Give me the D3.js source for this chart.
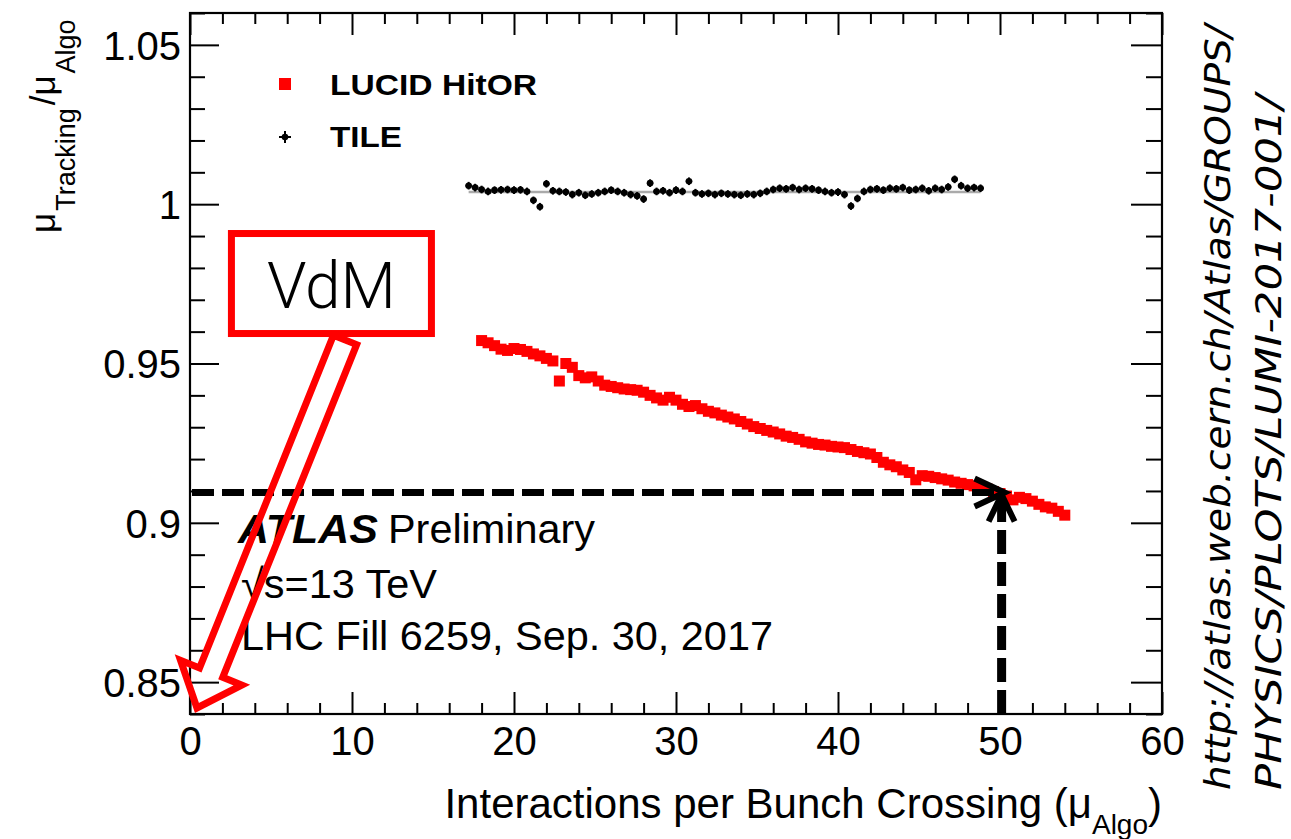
<!DOCTYPE html>
<html><head><meta charset="utf-8">
<script src="https://cdn.jsdelivr.net/npm/d3@7"></script>
<style>body{margin:0;background:#fff;} svg{display:block;background:#fff}</style>
</head><body>
<svg id="chart" width="1291" height="839"></svg>
<script>
// ---------- data ----------
const lucidMu = [18.0,18.4,18.8,19.2,19.6,20.0,20.4,20.8,21.2,21.6,22.0,22.4,22.8,23.2,23.6,24.0,24.4,24.8,25.2,25.6,26.0,26.4,26.8,27.2,27.6,28.0,28.4,28.8,29.2,29.6,30.0,30.4,30.8,31.2,31.6,32.0,32.4,32.8,33.2,33.6,34.0,34.4,34.8,35.2,35.6,36.0,36.4,36.8,37.2,37.6,38.0,38.4,38.8,39.2,39.6,40.0,40.4,40.8,41.2,41.6,42.0,42.4,42.8,43.2,43.6,44.0,44.4,44.8,45.2,45.6,46.0,46.4,46.8,47.2,47.6,48.0,48.4,48.8,49.2,49.6,50.0,50.4,50.8,51.2,51.6,52.0,52.4,52.8,53.2,53.6,54.0];
const lucidRatio = [0.9572,0.9565,0.9556,0.9545,0.9541,0.9547,0.9544,0.9538,0.9530,0.9524,
  0.9516,0.9508,0.9445,0.9500,0.9488,0.9462,0.9455,0.9458,0.9445,0.9432,
  0.9428,0.9424,0.9420,0.9418,0.9416,0.9410,0.9400,0.9392,0.9385,0.9394,
  0.9385,0.9372,0.9365,0.9368,0.9358,0.9350,0.9345,0.9338,0.9332,0.9326,
  0.9318,0.9310,0.9302,0.9296,0.9290,0.9285,0.9279,0.9272,0.9268,0.9262,
  0.9254,0.9250,0.9246,0.9244,0.9240,0.9238,0.9236,0.9230,0.9224,0.9220,
  0.9216,0.9205,0.9190,0.9182,0.9176,0.9166,0.9158,0.9135,0.9148,0.9146,
  0.9142,0.9138,0.9134,0.9128,0.9124,0.9120,0.9116,0.9112,0.9106,0.9098,
  0.9092,0.9084,0.9072,0.9080,0.9076,0.9068,0.9058,0.9050,0.9046,0.9036,0.9024];
const tileMu = [17.2,17.6,18.0,18.4,18.8,19.2,19.6,20.0,20.4,20.8,21.2,21.6,22.0,22.4,22.8,23.2,23.6,24.0,24.4,24.8,25.2,25.6,26.0,26.4,26.8,27.2,27.6,28.0,28.4,28.8,29.2,29.6,30.0,30.4,30.8,31.2,31.6,32.0,32.4,32.8,33.2,33.6,34.0,34.4,34.8,35.2,35.6,36.0,36.4,36.8,37.2,37.6,38.0,38.4,38.8,39.2,39.6,40.0,40.4,40.8,41.2,41.6,42.0,42.4,42.8,43.2,43.6,44.0,44.4,44.8,45.2,45.6,46.0,46.4,46.8,47.2,47.6,48.0,48.4,48.8];
const tileRatio = [1.0058,1.0052,1.0046,1.0040,1.0044,1.0045,1.0046,1.0044,1.0045,1.0040,
  1.0012,0.9992,1.0064,1.0042,1.0040,1.0038,1.0030,1.0036,1.0028,1.0032,
  1.0036,1.0040,1.0044,1.0040,1.0036,1.0030,1.0026,1.0016,1.0066,1.0040,
  1.0042,1.0036,1.0044,1.0040,1.0072,1.0036,1.0032,1.0034,1.0030,1.0034,
  1.0032,1.0030,1.0028,1.0032,1.0030,1.0034,1.0040,1.0046,1.0050,1.0048,
  1.0052,1.0046,1.0050,1.0048,1.0044,1.0040,1.0036,1.0038,1.0030,0.9994,
  1.0018,1.0040,1.0046,1.0048,1.0044,1.0050,1.0048,1.0052,1.0044,1.0046,
  1.0050,1.0042,1.0050,1.0046,1.0054,1.0078,1.0058,1.0050,1.0052,1.0050];
const tileErrMu = 0.2;
const tileErrRatio = 0.0012;
const lucidErrRatio = 0.0006;
const tileFitRatio = 1.0038;
const seriesNames = ["LUCID HitOR", "TILE"];
const xTicks = [0,10,20,30,40,50,60];
const xTickLabels = ["0","10","20","30","40","50","60"];
const xMinorTicks = [2,4,6,8,12,14,16,18,22,24,26,28,32,34,36,38,42,44,46,48,52,54,56,58];
const yTicks = [0.85,0.9,0.95,1,1.05];
const yTickLabels = ["0.85","0.9","0.95","1","1.05"];
const yMinorTicks = [0.84,0.86,0.87,0.88,0.89,0.91,0.92,0.93,0.94,0.96,0.97,0.98,0.99,1.01,1.02,1.03,1.04,1.06];
// annotation anchors (data units)
const targetMu = 50.1, targetRatio = 0.9095;
const vdmBox = {mu: 8.73, ratio: 0.9751};
const vdmArrowTail = {mu: 9.57, ratio: 0.9574};
const vdmArrowTip = {mu: 0.43, ratio: 0.8419};

// ---------- setup ----------
const svg = d3.select("#chart");
const FONT = "'Liberation Sans', Arial, Helvetica, sans-serif";
const L = 190, R = 1162, T = 13, B = 714;
const x = d3.scaleLinear().domain([0,60]).range([L,R]);
const y = d3.scaleLinear().domain([0.84,1.06]).range([B,T]);

svg.append("rect").attr("width",1291).attr("height",839).attr("fill","#fff");

function styleAxis(g){
  g.select(".domain").remove();
  g.selectAll(".tick line").attr("stroke","#000").attr("stroke-width",2);
  g.attr("font-family",FONT);
}
// bottom
svg.append("g").attr("transform",`translate(0,${B})`)
  .call(d3.axisBottom(x).tickValues(xTicks).tickFormat((d,i)=>xTickLabels[i]).tickSize(-22).tickSizeOuter(0).tickPadding(12))
  .call(styleAxis)
  .call(g=>g.selectAll("text").attr("font-size",40).attr("fill","#000").attr("dy","0.72em"));
svg.append("g").attr("transform",`translate(0,${B})`)
  .call(d3.axisBottom(x).tickValues(xMinorTicks).tickFormat("").tickSize(-11).tickSizeOuter(0)).call(styleAxis);
// top
svg.append("g").attr("transform",`translate(0,${T})`)
  .call(d3.axisTop(x).tickValues(xTicks).tickFormat("").tickSize(-22).tickSizeOuter(0)).call(styleAxis);
svg.append("g").attr("transform",`translate(0,${T})`)
  .call(d3.axisTop(x).tickValues(xMinorTicks).tickFormat("").tickSize(-11).tickSizeOuter(0)).call(styleAxis);
// left
svg.append("g").attr("transform",`translate(${L},0)`)
  .call(d3.axisLeft(y).tickValues(yTicks).tickFormat((d,i)=>yTickLabels[i]).tickSize(-29).tickSizeOuter(0).tickPadding(9))
  .call(styleAxis)
  .call(g=>g.selectAll("text").attr("font-size",40).attr("fill","#000").attr("dy","0.36em"));
svg.append("g").attr("transform",`translate(${L},0)`)
  .call(d3.axisLeft(y).tickValues(yMinorTicks).tickFormat("").tickSize(-15).tickSizeOuter(0)).call(styleAxis);
// right
svg.append("g").attr("transform",`translate(${R},0)`)
  .call(d3.axisRight(y).tickValues(yTicks).tickFormat("").tickSize(-31).tickSizeOuter(0)).call(styleAxis);
svg.append("g").attr("transform",`translate(${R},0)`)
  .call(d3.axisRight(y).tickValues(yMinorTicks).tickFormat("").tickSize(-16).tickSizeOuter(0)).call(styleAxis);
// frame
svg.append("rect").attr("x",L).attr("y",T).attr("width",R-L).attr("height",B-T)
  .attr("fill","none").attr("stroke","#000").attr("stroke-width",2.2);

// ---------- data marks ----------
const tile = tileMu.map((m,i)=>({m, r: tileRatio[i]}));
const lucid = lucidMu.map((m,i)=>({m, r: lucidRatio[i]}));

svg.append("line")
  .attr("x1",x(d3.min(tileMu))).attr("x2",x(d3.max(tileMu)))
  .attr("y1",y(tileFitRatio)).attr("y2",y(tileFitRatio))
  .attr("stroke","#aaa").attr("stroke-width",2.5);

const tg = svg.append("g");
tg.selectAll("line.ex").data(tile).join("line").attr("class","ex")
  .attr("x1",d=>x(d.m-tileErrMu)).attr("x2",d=>x(d.m+tileErrMu))
  .attr("y1",d=>y(d.r)).attr("y2",d=>y(d.r)).attr("stroke","#000").attr("stroke-width",2);
tg.selectAll("line.ey").data(tile).join("line").attr("class","ey")
  .attr("x1",d=>x(d.m)).attr("x2",d=>x(d.m))
  .attr("y1",d=>y(d.r-tileErrRatio)).attr("y2",d=>y(d.r+tileErrRatio)).attr("stroke","#000").attr("stroke-width",2);
tg.selectAll("circle").data(tile).join("circle")
  .attr("cx",d=>x(d.m)).attr("cy",d=>y(d.r)).attr("r",3.3).attr("fill","#000");

const S = 11;
const lg = svg.append("g");
lg.selectAll("line").data(lucid).join("line")
  .attr("x1",d=>x(d.m)).attr("x2",d=>x(d.m))
  .attr("y1",d=>y(d.r-lucidErrRatio)-S/2).attr("y2",d=>y(d.r+lucidErrRatio)+S/2)
  .attr("stroke","#ff0000").attr("stroke-width",3);
lg.selectAll("rect").data(lucid).join("rect")
  .attr("x",d=>x(d.m)-S/2).attr("y",d=>y(d.r)-S/2).attr("width",S).attr("height",S)
  .attr("fill","#ff0000");

// ---------- legend ----------
svg.append("rect").attr("x",279).attr("y",78).attr("width",12).attr("height",12).attr("fill","#ff0000");
svg.append("circle").attr("cx",285).attr("cy",137).attr("r",3.3).attr("fill","#000");
svg.append("line").attr("x1",279).attr("x2",291).attr("y1",137).attr("y2",137).attr("stroke","#000").attr("stroke-width",2);
svg.append("line").attr("x1",285).attr("x2",285).attr("y1",131).attr("y2",143).attr("stroke","#000").attr("stroke-width",2);
svg.append("text").attr("x",330).attr("y",95).attr("font-family",FONT).attr("font-weight","bold")
  .attr("font-size",30).attr("textLength",207).attr("lengthAdjust","spacingAndGlyphs").text(seriesNames[0]);
svg.append("text").attr("x",330).attr("y",147).attr("font-family",FONT).attr("font-weight","bold")
  .attr("font-size",30).attr("textLength",72).attr("lengthAdjust","spacingAndGlyphs").text(seriesNames[1]);

// ---------- ATLAS text ----------
const at = svg.append("text").attr("x",238).attr("y",543).attr("font-family",FONT).attr("font-size",41).attr("fill","#000");
at.append("tspan").attr("font-weight","bold").attr("font-style","italic").attr("textLength",140).attr("lengthAdjust","spacingAndGlyphs").text("ATLAS");
at.append("tspan").attr("dx",10).attr("textLength",207).attr("lengthAdjust","spacingAndGlyphs").text("Preliminary");
svg.append("text").attr("x",241).attr("y",598).attr("font-family",FONT).attr("font-size",41)
  .attr("textLength",196).attr("lengthAdjust","spacingAndGlyphs").text("\u221As=13 TeV");
svg.append("text").attr("x",241).attr("y",650).attr("font-family",FONT).attr("font-size",41)
  .attr("textLength",532).attr("lengthAdjust","spacingAndGlyphs").text("LHC Fill 6259, Sep. 30, 2017");

// ---------- axis titles ----------
const xt = svg.append("text").attr("x",R).attr("y",818).attr("text-anchor","end").attr("font-family",FONT).attr("font-size",42);
xt.append("tspan").text("Interactions per Bunch Crossing (\u03BC");
xt.append("tspan").attr("font-size",28).attr("dy",16).text("Algo");
xt.append("tspan").attr("dy",-16).text(")");

const yt = svg.append("text").attr("transform","translate(55,233) rotate(-90)").attr("font-family",FONT).attr("font-size",35);
yt.append("tspan").text("\u03BC");
yt.append("tspan").attr("font-size",27).attr("dy",20).attr("dx",2).text("Tracking");
yt.append("tspan").attr("dy",-20).attr("dx",3).text("/\u03BC");
yt.append("tspan").attr("font-size",27).attr("dy",20).attr("dx",2).text("Algo");

// ---------- URL ----------
svg.append("text").attr("transform","translate(1230,790) rotate(-90)").attr("font-family","'DejaVu Sans', sans-serif")
  .attr("font-style","italic").attr("font-size",36).attr("textLength",765).attr("lengthAdjust","spacingAndGlyphs")
  .text("http://atlas.web.cern.ch/Atlas/GROUPS/");
svg.append("text").attr("transform","translate(1281,790) rotate(-90)").attr("font-family","'DejaVu Sans', sans-serif")
  .attr("font-style","italic").attr("font-size",36).attr("textLength",695).attr("lengthAdjust","spacingAndGlyphs")
  .text("PHYSICS/PLOTS/LUMI-2017-001/");

// ---------- dashed arrows ----------
const tx = x(targetMu), ty = y(targetRatio);
svg.append("line").attr("x1",L+2).attr("x2",tx-6).attr("y1",ty).attr("y2",ty)
  .attr("stroke","#000").attr("stroke-width",7).attr("stroke-dasharray","22 8");
svg.append("line").attr("x1",tx).attr("x2",tx).attr("y1",B).attr("y2",ty+8)
  .attr("stroke","#000").attr("stroke-width",9).attr("stroke-dasharray","24 8");
svg.append("path").attr("d",`M${tx-27},${ty-14}L${tx+3},${ty}L${tx-27},${ty+14}`)
  .attr("fill","none").attr("stroke","#000").attr("stroke-width",6);
svg.append("path").attr("d",`M${tx-13},${ty+29}L${tx},${ty+2}L${tx+13},${ty+29}`)
  .attr("fill","none").attr("stroke","#000").attr("stroke-width",6);

// ---------- VdM annotation ----------
const bx = x(vdmBox.mu), by = y(vdmBox.ratio);
svg.append("rect").attr("x",bx-100).attr("y",by-50).attr("width",200).attr("height",100)
  .attr("fill","#fff").attr("stroke","#ff0000").attr("stroke-width",7);
svg.append("text").attr("x",bx).attr("y",by+24).attr("text-anchor","middle")
  .attr("font-family","Roboto, 'Open Sans', sans-serif").attr("font-weight",300).attr("font-size",64).text("VdM");

const p0 = [x(vdmArrowTail.mu), y(vdmArrowTail.ratio)], p1 = [x(vdmArrowTip.mu), y(vdmArrowTip.ratio)];
const dxv = p1[0]-p0[0], dyv = p1[1]-p0[1], len = Math.hypot(dxv,dyv);
const u = [dxv/len, dyv/len], n = [-u[1], u[0]];
const w = 12.5, hw = 33, hl = 38;
const base = [p1[0]-u[0]*hl, p1[1]-u[1]*hl];
const pt = (p,s)=>[p[0]+n[0]*s, p[1]+n[1]*s];
const poly = [pt(p0,w), pt(base,w), pt(base,hw), p1, pt(base,-hw), pt(base,-w), pt(p0,-w)];
svg.append("path").attr("d","M"+poly.map(p=>p.join(",")).join("L")+"Z")
  .attr("fill","none").attr("stroke","#ff0000").attr("stroke-width",7).attr("stroke-linejoin","miter");
</script>
</body></html>
